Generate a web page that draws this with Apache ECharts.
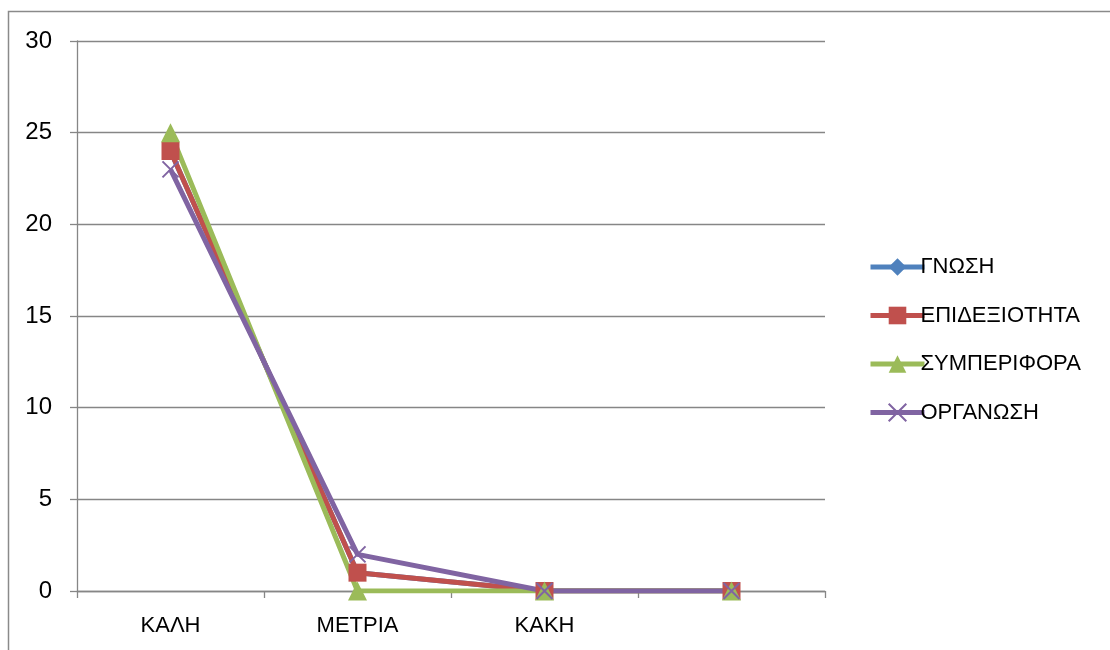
<!DOCTYPE html>
<html>
<head>
<meta charset="utf-8">
<script src="https://cdn.jsdelivr.net/npm/echarts@6/dist/echarts.min.js"></script>
<style>
  html, body { margin: 0; padding: 0; background: #ffffff; }
  #chart { width: 1110px; height: 650px; }
</style>
</head>
<body>
<div id="chart"></div>
<script>
// Rating categories (the fourth slot is left blank)
const categories = ['ΚΑΛΗ', 'ΜΕΤΡΙΑ', 'ΚΑΚΗ', ''];

// Counts per criterion
const gnosi = [24, 1, 0, 0];
const epidexiotita = [24, 1, 0, 0];
const symperifora = [25, 0, 0, 0];
const organosi = [23, 2, 0, 0];

const seriesNames = ['ΓΝΩΣΗ', 'ΕΠΙΔΕΞΙΟΤΗΤΑ', 'ΣΥΜΠΕΡΙΦΟΡΑ', 'ΟΡΓΑΝΩΣΗ'];

const FONT = '"Liberation Sans", Arial, sans-serif';
const GRAY = '#868686';
const crossSymbol = 'path://M0,0L10,10M10,0L0,10';

function lineSeries(name, data, color, symbol, size, extraItem) {
  return {
    name: name,
    type: 'line',
    data: data,
    symbol: symbol,
    symbolSize: size,
    showAllSymbol: true,
    lineStyle: { color: color, width: 5 },
    itemStyle: Object.assign({ color: color }, extraItem || {}),
    emphasis: { disabled: true },
    animation: false
  };
}

const chart = echarts.init(document.getElementById('chart'), null, { renderer: 'canvas' });

chart.setOption({
  backgroundColor: '#ffffff',
  animation: false,
  textStyle: { fontFamily: FONT },
  graphic: [{
    type: 'rect',
    silent: true,
    shape: { x: 8.5, y: 11.5, width: 1300, height: 1000 },
    style: { fill: 'none', stroke: '#8a8a8a', lineWidth: 1.5 }
  }],
  grid: { left: 77, right: 285, top: 41, bottom: 59, containLabel: false },
  legend: {
    orient: 'vertical',
    left: 863,
    top: 251,
    itemWidth: 54,
    itemHeight: 22,
    itemGap: 26.5,
    lineStyle: { width: 5 },
    textStyle: { fontFamily: FONT, fontSize: 22, color: '#000', lineHeight: 22, padding: [0, 0, 0, -9] },
    data: seriesNames
  },
  xAxis: {
    type: 'category',
    data: categories,
    boundaryGap: true,
    axisLine: { show: true, lineStyle: { color: GRAY, width: 1.3 } },
    axisTick: { show: true, interval: 0, alignWithLabel: false, length: 7, lineStyle: { color: GRAY, width: 1.3 } },
    axisLabel: { interval: 0, margin: 24, fontSize: 22, color: '#000', fontFamily: FONT },
    splitLine: { show: false }
  },
  yAxis: {
    type: 'value',
    min: 0,
    max: 30,
    interval: 5,
    axisLine: { show: true, lineStyle: { color: GRAY, width: 1.3 } },
    axisTick: { show: true, length: 7, lineStyle: { color: GRAY, width: 1.3 } },
    axisLabel: { margin: 25, fontSize: 24, color: '#000', fontFamily: FONT },
    splitLine: { show: true, lineStyle: { color: GRAY, width: 1.3 } }
  },
  series: [
    lineSeries(seriesNames[0], gnosi, '#4F81BD', 'diamond', 17),
    lineSeries(seriesNames[1], epidexiotita, '#C0504D', 'rect', 18),
    lineSeries(seriesNames[2], symperifora, '#9BBB59', 'triangle', 19),
    lineSeries(seriesNames[3], organosi, '#8064A2', crossSymbol, 16,
      { borderColor: '#8064A2', borderWidth: 2 })
  ]
});
</script>
</body>
</html>
